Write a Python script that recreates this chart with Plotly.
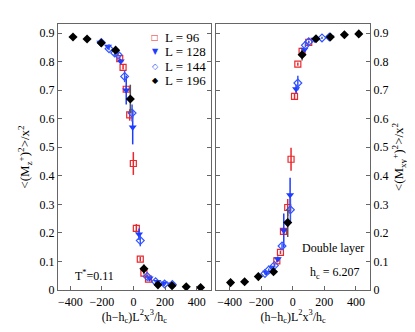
import plotly.graph_objects as go

# ---------------- data: left panel  <(M_z^+)^2>/x^2 ----------------
z96_x = [-87, -66, -46, -24, -1, 18, 43, 66, 95]
z96_y = [0.810, 0.780, 0.703, 0.613, 0.443, 0.216, 0.108, 0.059, 0.038]
z96_e = [0.006, 0.008, 0.012, 0.020, 0.040, 0.015, 0.008, 0.005, 0.004]

z128_x = [-210, -161, -81, -46, -5, 35, 102, 151, 193, 239]
z128_y = [0.867, 0.853, 0.801, 0.700, 0.570, 0.195, 0.041, 0.029, 0.024, 0.020]
z128_e = [0.005, 0.005, 0.008, 0.050, 0.060, 0.020, 0.005, 0.004, 0.004, 0.003]

z144_x = [-204, -155, -119, -98, -56, -9, 43, 87, 140, 197, 246]
z144_y = [0.867, 0.845, 0.830, 0.824, 0.748, 0.620, 0.173, 0.047, 0.029, 0.021, 0.019]
z144_e = [0.005, 0.005, 0.006, 0.006, 0.020, 0.030, 0.020, 0.006, 0.004, 0.003, 0.003]

z196_x = [-383, -294, -204, -113, -20, 66, 155, 244, 334, 425]
z196_y = [0.886, 0.879, 0.865, 0.840, 0.669, 0.074, 0.018, 0.015, 0.011, 0.009]
z196_e = [0.006, 0.006, 0.007, 0.008, 0.050, 0.015, 0.006, 0.005, 0.004, 0.004]

# ---------------- data: right panel  <(M_xy^+)^2>/x^2 ----------------
xy96_x = [-101, -78, -59, -32, -11, 11, 32, 59, 101]
xy96_y = [0.102, 0.132, 0.205, 0.289, 0.458, 0.678, 0.791, 0.836, 0.867]
xy96_e = [0.006, 0.006, 0.010, 0.030, 0.040, 0.010, 0.006, 0.005, 0.004]

xy128_x = [-169, -133, -95, -57, -17, 21, 74, 137, 238]
xy128_y = [0.061, 0.079, 0.109, 0.208, 0.333, 0.704, 0.842, 0.877, 0.885]
xy128_e = [0.004, 0.005, 0.008, 0.060, 0.060, 0.015, 0.006, 0.005, 0.004]

xy144_x = [-176, -152, -116, -68, -15, 32, 80, 101, 185, 232]
xy144_y = [0.058, 0.070, 0.086, 0.154, 0.281, 0.725, 0.857, 0.869, 0.883, 0.886]
xy144_e = [0.004, 0.005, 0.006, 0.010, 0.040, 0.025, 0.006, 0.005, 0.004, 0.004]

xy196_x = [-394, -305, -218, -122, -32, 59, 147, 238, 327, 418]
xy196_y = [0.026, 0.029, 0.047, 0.064, 0.236, 0.824, 0.880, 0.886, 0.894, 0.897]
xy196_e = [0.005, 0.005, 0.006, 0.007, 0.050, 0.020, 0.008, 0.008, 0.007, 0.007]

y_ticks = [0, 0.1, 0.2, 0.3, 0.4, 0.5, 0.6, 0.7, 0.8, 0.9]
y_ticktext = ["0", "0.1", "0.2", "0.3", "0.4", "0.5", "0.6", "0.7", "0.8", "0.9"]
x_ticks = [-400, -200, 0, 200, 400]
legend_labels = ["L = 96", "L = 128", "L = 144", "L = 196"]
legend_glyphs = ["\u25a1", "\u25bc", "\u25c7", "\u25c6"]

RED = "#e8282c"
BLUE = "#1e3cff"
BLUE2 = "#3355ff"
BLACK = "#000000"
FONT = "Liberation Serif"

styles = [
    ("square-open", RED, RED, 6, 1.2),
    ("triangle-down", BLUE, BLUE, 7, 0),
    ("diamond-open", BLUE2, BLUE2, 6, 1.2),
    ("diamond", BLACK, "#555555", 7, 0),
]
left = [(z96_x, z96_y, z96_e), (z128_x, z128_y, z128_e),
        (z144_x, z144_y, z144_e), (z196_x, z196_y, z196_e)]
right = [(xy96_x, xy96_y, xy96_e), (xy128_x, xy128_y, xy128_e),
         (xy144_x, xy144_y, xy144_e), (xy196_x, xy196_y, xy196_e)]

fig = go.Figure()
for name, (sym, col, ecol, size, lw), (xs, ys, es) in zip(legend_labels, styles, left):
    fig.add_trace(go.Scatter(
        x=xs, y=ys, mode="markers", name=name, xaxis="x", yaxis="y",
        marker=dict(symbol=sym, color=col, size=size, line=dict(color=col, width=lw)),
        error_y=dict(type="data", array=es, color=ecol, thickness=1.5, width=0),
        showlegend=False))
for name, (sym, col, ecol, size, lw), (xs, ys, es) in zip(legend_labels, styles, right):
    fig.add_trace(go.Scatter(
        x=xs, y=ys, mode="markers", name=name, xaxis="x2", yaxis="y2",
        marker=dict(symbol=sym, color=col, size=size, line=dict(color=col, width=lw)),
        error_y=dict(type="data", array=es, color=ecol, thickness=1.5, width=0),
        showlegend=False))

# compact legend drawn as text (symbol + label) in the left panel
legend_rows_y = [0.951, 0.895, 0.840, 0.787]
annotations = []
for label, glyph, (sym, col, ecol, size, lw), yy in zip(legend_labels, legend_glyphs, styles, legend_rows_y):
    annotations.append(dict(text=glyph, xref="paper", yref="paper", x=0.311, y=yy,
                            xanchor="center", yanchor="middle", showarrow=False,
                            font=dict(family="DejaVu Sans", size=8, color=col)))
    annotations.append(dict(text=label, xref="paper", yref="paper", x=0.337, y=yy,
                            xanchor="left", yanchor="middle", showarrow=False,
                            font=dict(family=FONT, size=13, color="black")))

annotations += [
    dict(text="T<sup>*</sup>=0.11", xref="x domain", yref="y domain", x=0.095, y=0.055,
         xanchor="left", yanchor="middle", showarrow=False,
         font=dict(family=FONT, size=12)),
    dict(text="Double layer", xref="x2 domain", yref="y2 domain", x=0.548, y=0.158,
         xanchor="left", yanchor="middle", showarrow=False,
         font=dict(family=FONT, size=12)),
    dict(text="h<sub>c</sub> = 6.207", xref="x2 domain", yref="y2 domain", x=0.597,
         y=0.065, xanchor="left", yanchor="middle", showarrow=False,
         font=dict(family=FONT, size=12)),
]

xtitle = "(h\u2212h<sub>c</sub>)L<sup>2</sup>x<sup>3</sup>/h<sub>c</sub>"
axis_common = dict(showgrid=False, zeroline=False, showline=True, linecolor="#666666",
                   linewidth=1.2, ticks="inside", ticklen=4, tickcolor="#666666",
                   tickfont=dict(family=FONT, size=12, color="black"))

fig.update_layout(
    width=415, height=332,
    margin=dict(l=50, r=53, t=16, b=50),
    paper_bgcolor="white", plot_bgcolor="white",
    font=dict(family=FONT, size=12, color="black"),
    showlegend=False,
    xaxis=dict(domain=[0, 0.49], range=[-478, 490], anchor="y", tickvals=x_ticks,
               mirror=True, title=dict(text=xtitle, standoff=4,
                                       font=dict(family=FONT, size=12)), **axis_common),
    yaxis=dict(domain=[0, 1], range=[0, 0.9316], anchor="x", tickvals=y_ticks,
               ticktext=y_ticktext, mirror="ticks",
               title=dict(text="&lt;(M<sub>z</sub><sup>+</sup>)<sup>2</sup>&gt;/x<sup>2</sup>",
                          standoff=6, font=dict(family=FONT, size=13)), **axis_common),
    xaxis2=dict(domain=[0.507, 1], range=[-485, 489], anchor="y2", tickvals=x_ticks,
                mirror=True, title=dict(text=xtitle, standoff=4,
                                        font=dict(family=FONT, size=12)), **axis_common),
    yaxis2=dict(domain=[0, 1], range=[0, 0.9316], anchor="x2", side="right",
                tickvals=y_ticks, ticktext=y_ticktext, mirror="ticks",
                title=dict(text="&lt;(M<sub>xy</sub><sup>+</sup>)<sup>2</sup>&gt;/x<sup>2</sup>",
                           standoff=6, font=dict(family=FONT, size=13)), **axis_common),
    annotations=annotations,
)

fig.write_html("out.html")
